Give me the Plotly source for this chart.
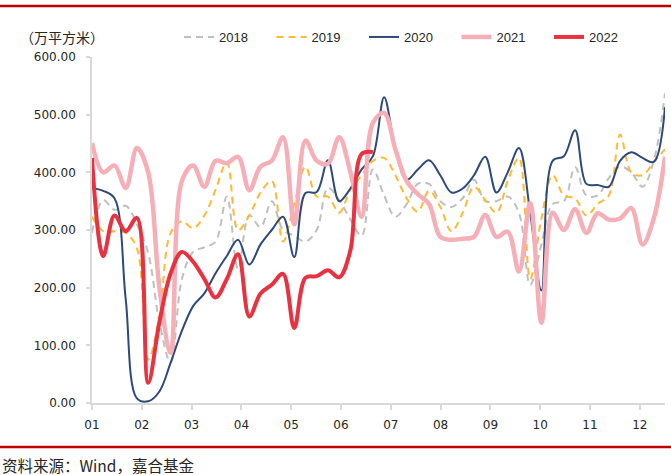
import plotly.graph_objects as go

# weekly index (0..51) and month tick labels
weeks = list(range(52))
month_labels = ["01", "02", "03", "04", "05", "06", "07", "08", "09", "10", "11", "12"]
weeks_per_month = 4.4325

y2018 = [295, 352, 335, 342, 310, 260, 140, 70, 215, 262, 270, 280, 358, 232, 325, 305,
         350, 300, 290, 280, 300, 373, 352, 318, 290, 405, 360, 323, 345, 380, 380, 350,
         340, 355, 387, 350, 350, 358, 330, 205, 275, 345, 350, 409, 360, 360, 390, 410,
         400, 375, 420, 537]
y2019 = [323, 298, 298, 295, 268, 75, 150, 295, 315, 303, 325, 370, 418, 300, 325, 365,
         385, 280, 345, 410, 358, 358, 330, 370, 395, 420, 425, 395, 355, 332, 368, 340,
         298, 330, 375, 352, 330, 385, 425, 215, 320, 395, 360, 355, 325, 345, 360, 465,
         400, 395, 418, 440]
y2020 = [373, 368, 355, 180, 8, 3, 20, 70, 125, 168, 190, 225, 255, 283, 240, 275,
         300, 323, 253, 364, 366, 421, 350, 372, 405, 428, 530, 440, 387, 405, 421, 395,
         365, 372, 395, 427, 365, 400, 442, 330, 195, 420, 428, 473, 380, 378, 375, 420,
         435, 425, 418, 513]
y2021 = [451, 400, 412, 373, 442, 400, 200, 87, 385, 412, 375, 420, 416, 427, 369, 410,
         420, 461, 310, 455, 420, 415, 461, 400, 323, 486, 503, 440, 385, 362, 345, 288,
         283, 285, 288, 326, 288, 297, 228, 347, 139, 330, 300, 336, 295, 329, 318, 320,
         338, 275, 320, 427]
y2022 = [425, 255, 325, 298, 321, 35, 140, 225, 262, 245, 215, 183, 215, 258, 150, 190,
         205, 224, 130, 217, 220, 230, 218, 265, 432, 435]

series = [
    ("2018", y2018, "#BFBFBF", 2, "7px,5px"),
    ("2019", y2019, "#FFB932", 2, "7px,5px"),
    ("2020", y2020, "#2E4A78", 2, "solid"),
    ("2021", y2021, "#F6AFB7", 4.5, "solid"),
    ("2022", y2022, "#E8323F", 4, "solid"),
]

fig = go.Figure()
for name, vals, color, width, dash in series:
    fig.add_trace(go.Scatter(
        x=weeks[:len(vals)], y=vals, name=name, mode="lines",
        line=dict(color=color, width=width, dash=dash, shape="spline", smoothing=1.0),
        hoverinfo="skip",
    ))

W, H = 671, 475
ml, mr, mt, mb = 92, 6, 57, 72
pw, ph = W - ml - mr, H - mt - mb

def px_x(px):
    return (px - ml) / pw

def px_y(py):
    return 1 - (py - mt) / ph

axis_color = "#D9D9D9"
fig.update_layout(
    width=W, height=H,
    margin=dict(l=ml, r=mr, t=mt, b=mb, autoexpand=False),
    paper_bgcolor="white", plot_bgcolor="white",
    font=dict(family="DejaVu Sans, Verdana, sans-serif", color="#262626", size=12),
    showlegend=True,
    legend=dict(
        orientation="h", x=px_x(179), y=px_y(37), xanchor="left", yanchor="middle",
        font=dict(family="Liberation Sans, Arial, sans-serif", size=13, color="#262626"),
        bgcolor="rgba(0,0,0,0)", borderwidth=0,
        entrywidth=47.5, entrywidthmode="pixels", traceorder="normal",
    ),
    xaxis=dict(
        range=[0, 51], tickmode="array",
        tickvals=[i * weeks_per_month for i in range(12)], ticktext=month_labels,
        showline=True, linecolor=axis_color, linewidth=1.5,
        ticks="outside", ticklen=5, tickcolor=axis_color, tickwidth=1.5,
        showgrid=False, zeroline=False, ticklabelstandoff=5,
        tickfont=dict(size=12), automargin=False,
    ),
    yaxis=dict(
        range=[0, 600], tickmode="array", tickvals=[0, 100, 200, 300, 400, 500, 600],
        tickformat=".2f",
        showline=True, linecolor=axis_color, linewidth=1.5,
        ticks="outside", ticklen=4, tickcolor=axis_color, tickwidth=1.5,
        showgrid=False, zeroline=False, ticklabelstandoff=8,
        tickfont=dict(size=12), automargin=False,
    ),
    shapes=[
        dict(type="line", xref="paper", yref="paper", x0=px_x(0), x1=px_x(W), y0=px_y(6), y1=px_y(6),
             line=dict(color="#C00000", width=2.5)),
        dict(type="line", xref="paper", yref="paper", x0=px_x(0), x1=px_x(W), y0=px_y(447), y1=px_y(447),
             line=dict(color="#C00000", width=2.5)),
    ],
    annotations=[
        dict(text="（万平方米）", xref="paper", yref="paper", x=px_x(18), y=px_y(37),
             xanchor="left", yanchor="middle", showarrow=False,
             font=dict(family="Noto Sans CJK SC", size=14, color="#262626")),
        dict(text="资料来源：Wind，嘉合基金", xref="paper", yref="paper", x=px_x(0), y=px_y(465),
             xanchor="left", yanchor="middle", showarrow=False,
             font=dict(family="Noto Sans CJK SC", size=15.5, color="#262626")),
    ],
)

fig.write_html("out.html", config={"displayModeBar": False},
               post_script="document.body.style.margin='0px';")
